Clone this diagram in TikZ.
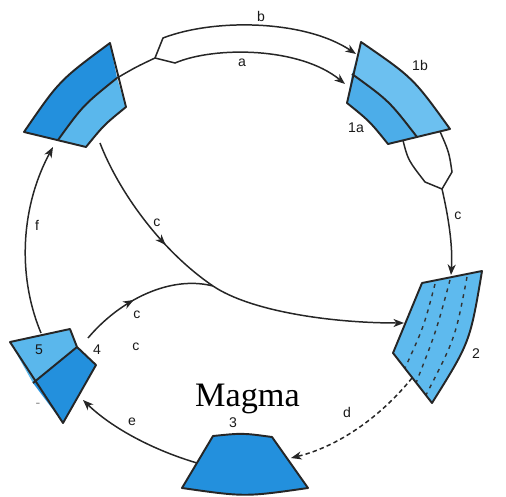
\documentclass[tikz,border=0pt]{standalone}
\usepackage{fontspec}
\newfontfamily\labelfont{Liberation Sans}
\newfontfamily\magmafont{Liberation Serif}
\usetikzlibrary{arrows.meta,decorations.markings}
\definecolor{darkb}{HTML}{2390DD}
\definecolor{lightb}{HTML}{5AB7EC}
\definecolor{oneA}{HTML}{4CADE9}
\definecolor{oneB}{HTML}{6CC0F0}
\definecolor{twoC}{HTML}{5EBAEE}
\tikzset{
  box/.style={draw=black!85, line width=1.1pt, line join=round},
  conn/.style={draw=black!85, line width=0.85pt},
  arr/.style={conn, -{Stealth[length=6pt,width=4.6pt,inset=1.8pt]}},
  midarrow/.style={postaction={decorate}, decoration={markings,
      mark=at position #1 with {\arrow{Stealth[length=6pt,width=4.6pt,inset=1.8pt]}}}},
  lbl/.style={font=\labelfont\fontsize{8}{9}\selectfont, inner sep=0pt, text=black!90},
  innerdash/.style={draw=black!80, line width=0.8pt, dash pattern=on 2.2pt off 2.8pt},
}
\begin{document}
\begin{tikzpicture}[x=0.02cm,y=-0.02cm]
\useasboundingbox (0,0) rectangle (506,496);

% ---------- top-left box ----------
\coordinate (TLol) at (24,132);
\coordinate (TLot) at (110,43);
\coordinate (TLir) at (126,107);
\coordinate (TLib) at (86,147);
\coordinate (TLdl) at (58,140);
\coordinate (TLdr) at (117,78);
\fill[darkb] (TLol) .. controls (59.4,80.4) .. (TLot) -- (TLdr) .. controls (83.3,105.1) .. (TLdl) -- cycle;
\fill[lightb] (TLdl) .. controls (83.3,105.1) .. (TLdr) -- (TLir) .. controls (103.9,125) .. (TLib) -- cycle;
\draw[box] (TLol) .. controls (59.4,80.4) .. (TLot) -- (TLir) .. controls (103.9,125) .. (TLib) -- cycle;
\draw[box] (TLdl) .. controls (83.3,105.1) .. (TLdr);

% ---------- box 1 ----------
\coordinate (Bt) at (361,42);
\coordinate (Bl) at (347,103);
\coordinate (Bb) at (388,144);
\coordinate (Br) at (450,129);
\coordinate (Bd1) at (352,74);
\coordinate (Bd2) at (417,137);
\fill[oneB] (Bt) .. controls (413.2,77.9) .. (Br) -- (Bd2) .. controls (389.1,100.9) .. (Bd1) -- cycle;
\fill[oneA] (Bd1) .. controls (389.1,100.9) .. (Bd2) -- (Bb) .. controls (369.6,121.2) .. (Bl) -- cycle;
\draw[box] (Bt) .. controls (413.2,77.9) .. (Br) -- (Bb) .. controls (369.6,121.2) .. (Bl) -- cycle;
\draw[box] (Bd1) .. controls (389.1,100.9) .. (Bd2);

% ---------- box 2 ----------
\coordinate (Ctl) at (422,283);
\coordinate (Ctr) at (482,271);
\coordinate (Cb) at (432,403);
\coordinate (Cl) at (393,353);
\fill[twoC] (Ctl) -- (Ctr) .. controls (470,342.2) .. (Cb) -- (Cl) -- cycle;
\draw[innerdash] (435,284) .. controls (423.8,326.8) .. (405,368);
\draw[innerdash] (450,280) .. controls (436.1,331.6) .. (416,383);
\draw[innerdash] (467,277) .. controls (455.3,338.1) .. (426,395);
\draw[box] (Ctl) -- (Ctr) .. controls (470,342.2) .. (Cb) -- (Cl) -- cycle;

% ---------- box 3 ----------
\coordinate (Dtl) at (213,436);
\coordinate (Dtr) at (272,437);
\coordinate (Dbr) at (308,488);
\coordinate (Dbl) at (182,488);
\draw[box, fill=darkb] (Dtl) .. controls (242.5,433) .. (Dtr) -- (Dbr) .. controls (245,497) .. (Dbl) -- cycle;

% ---------- box 4/5 ----------
\coordinate (E1) at (10,342);
\coordinate (E2) at (70,329);
\coordinate (E3) at (96,365);
\coordinate (E4) at (63,423);
\coordinate (Ed1) at (33,383);
\coordinate (Ed2) at (77,347);
\fill[lightb] (E1) -- (E2) -- (Ed2) -- (Ed1) -- cycle;
\fill[darkb] (Ed1) -- (Ed2) -- (E3) -- (E4) -- cycle;
\draw[box] (E1) -- (E2) -- (Ed2) -- (E3) -- (E4) -- cycle;
\draw[box] (Ed1) -- (Ed2);

% ---------- connector end points ----------
\coordinate (branch) at (155,58);
\coordinate (bS) at (163,38);
\coordinate (bE) at (356,54);
\coordinate (aS) at (175,63);
\coordinate (aE) at (345,84);
\coordinate (p1) at (403,140.5);
\coordinate (p1m) at (425,182);
\coordinate (p2) at (440,131.5);
\coordinate (p2m) at (452,172);
\coordinate (merge) at (442,189);
\coordinate (cE) at (451,275);
\coordinate (TLc) at (100,143);
\coordinate (X) at (213,286);
\coordinate (cE2) at (404,323);
\coordinate (Fs) at (88,338);
\coordinate (fS) at (41,333);
\coordinate (fE) at (53,147);
\coordinate (eS) at (197,463);
\coordinate (eE) at (83,400);
\coordinate (dS) at (412,378);
\coordinate (dE) at (291,458);

% ---------- connectors ----------
\draw[conn] (TLdr) .. controls (136,67) .. (branch);
\draw[arr] (branch) -- (bS) .. controls (215,18) and (305,20) .. (bE);
\draw[arr] (branch) -- (aS) .. controls (215,46) and (300,47) .. (aE);
\draw[conn] (p1) .. controls (408,160) .. (p1m) -- (merge);
\draw[conn] (p2) .. controls (449,152) .. (p2m) -- (merge);
\draw[arr] (merge) .. controls (448,215) and (453,245) .. (cE);
\draw[conn, midarrow=0.66] (TLc) .. controls (118,190) and (160,250) .. (X);
\draw[arr] (X) .. controls (250,311) and (330,323) .. (cE2);
\draw[conn, midarrow=0.42] (Fs) .. controls (120,300) and (170,275) .. (X);
\draw[arr] (fS) .. controls (16,273) and (22,204) .. (fE);
\draw[arr] (eS) .. controls (153,450) and (112,428) .. (eE);
\draw[arr, dash pattern=on 2.5pt off 1.8pt] (dS) .. controls (380,417.5) and (338,446.5) .. (dE);

% ---------- labels ----------
\node[lbl] (lb) at (261,16) {b};
\node[lbl] (la) at (242,63) {a};
\node[lbl] (l1b) at (420,65) {1b};
\node[lbl] (l1a) at (356,128) {1a};
\node[lbl] (lcr) at (458,216) {c};
\node[lbl] (lcm) at (157,223) {c};
\node[lbl] (lc1) at (137,315) {c};
\node[lbl] (lc2) at (136,347) {c};
\node[lbl] (l5) at (39,350) {5};
\node[lbl] (l4) at (97,350) {4};
\node[lbl] (lf) at (37,225) {f};
\node[lbl] (le) at (132,422) {e};
\node[lbl] (l3) at (233,423) {3};
\node[lbl] (ld) at (347,412) {d};
\node[lbl] (l2) at (476,354) {2};
\node[lbl, text=black!45] (ldash) at (38,405) {-};
\node[inner sep=0pt, anchor=base, font=\magmafont\fontsize{19.5}{22}\selectfont] (magma) at (247.5,406.5) {Magma};
\end{tikzpicture}
\end{document}
